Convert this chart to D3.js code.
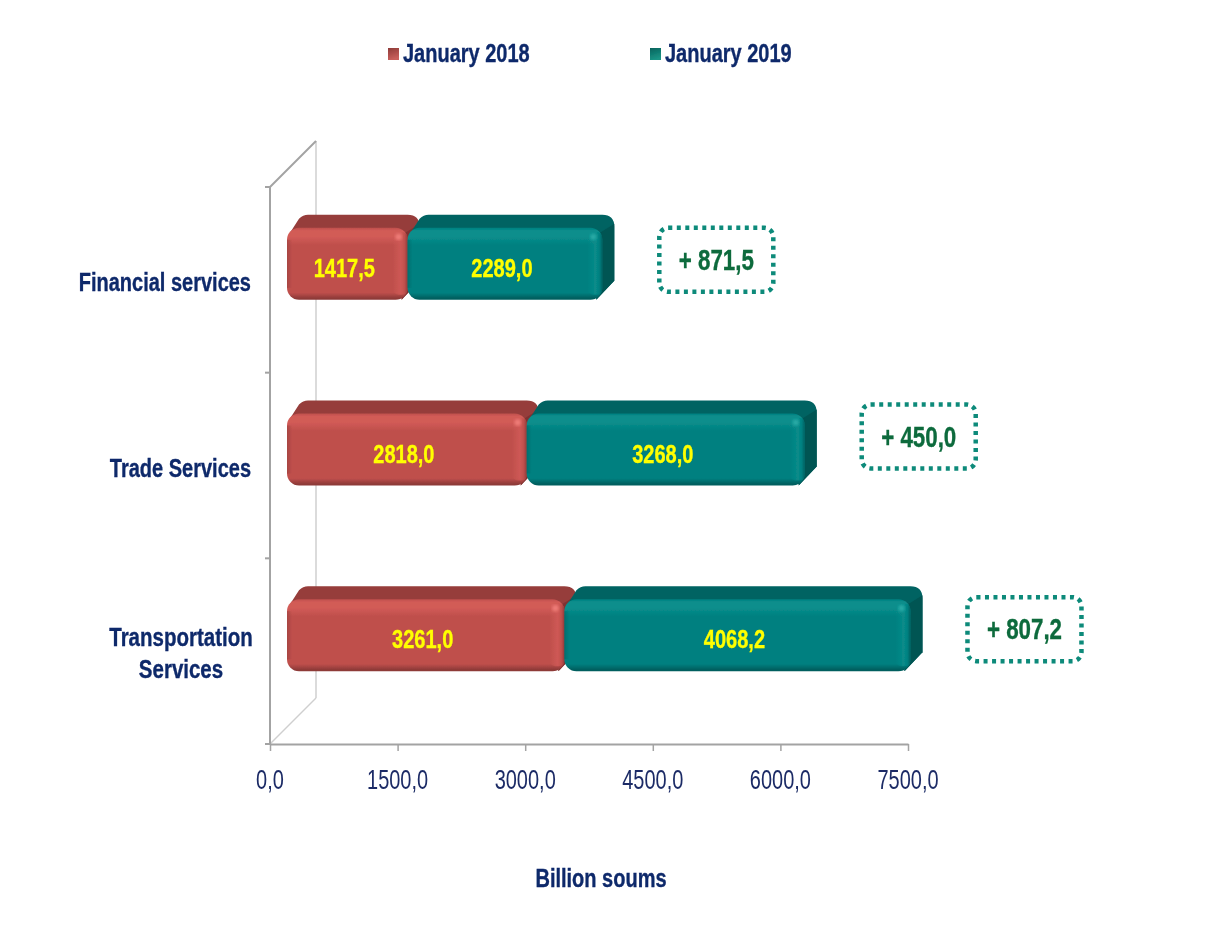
<!DOCTYPE html>
<html><head><meta charset="utf-8">
<script src="https://cdn.jsdelivr.net/npm/d3@7"></script>
<style>html,body{margin:0;padding:0;background:#fff}svg{display:block}text{font-family:"Liberation Sans",Arial,sans-serif}</style>
</head><body><div id="chart"></div>
<script>
const categories = ["Financial services", "Trade Services", "Transportation Services"];
const categoryLines = [["Financial services"], ["Trade Services"], ["Transportation", "Services"]];
const seriesNames = ["January 2018", "January 2019"];
const jan2018 = [1417.5, 2818.0, 3261.0];
const jan2019 = [2289.0, 3268.0, 4068.2];
const deltaLabels = ["+ 871,5", "+ 450,0", "+ 807,2"];
const xTicks = [0, 1500, 3000, 4500, 6000, 7500];
const axisTitle = "Billion soums";

const W = 1214, H = 930;
const plot = {left:270, right:908, top:187, bottom:744, wallDepth:46};
const bar = {shift:17, height:72, up:16, dx:12, dy:13, r:12};
const deltaBox = {gap:45, w:114, h:64, centerUp:[20, 29, 22]};
const xScale = d3.scaleLinear().domain([0, 7500]).range([plot.left, plot.right]);
const yScale = d3.scaleBand().domain(categories).range([plot.top, plot.bottom]);
const fmt = v => d3.format(".1f")(v).replace(".", ",");
const colors = [
 {base:"#bf4f4c", light:"#d25b57", low:"#8e3a38", top:"#963d3b", side:"#7e3331", spot:"#ef7d78", mk1:"#8e3a38", mk2:"#c9605c"},
 {base:"#028080", light:"#098e8c", low:"#015f5f", top:"#056362", side:"#045453", spot:"#27aaa6", mk1:"#05625c", mk2:"#1a9485"}
];
const svg = d3.select("#chart").append("svg").attr("width",W).attr("height",H);
const defs = svg.append("defs");
const soft = defs.append("filter").attr("id","soft").attr("x","-5%").attr("y","-5%").attr("width","110%").attr("height","110%");
soft.append("feGaussianBlur").attr("stdDeviation",0.45);
const blur = defs.append("filter").attr("id","spotblur"); blur.append("feGaussianBlur").attr("stdDeviation",1.6);
colors.forEach((c,i)=>{
  const v = defs.append("linearGradient").attr("id","v"+i).attr("x1",0).attr("x2",0).attr("y1",0).attr("y2",1);
  [[0,c.base],[.04,c.light],[.12,c.light],[.24,c.base],[.9,c.base],[.98,c.low],[1,c.low]].forEach(s=>v.append("stop").attr("offset",s[0]).attr("stop-color",s[1]));
  const e = defs.append("linearGradient").attr("id","e"+i).attr("x1",0).attr("x2",1).attr("y1",0).attr("y2",0);
  [[0,c.light,0],[.55,c.light,.8],[.8,c.base,.9],[1,c.low,.95]].forEach(s=>e.append("stop").attr("offset",s[0]).attr("stop-color",s[1]).attr("stop-opacity",s[2]));
  const l = defs.append("linearGradient").attr("id","l"+i).attr("x1",0).attr("x2",1).attr("y1",0).attr("y2",0);
  [[0,c.low,.5],[1,c.low,0]].forEach(s=>l.append("stop").attr("offset",s[0]).attr("stop-color",s[1]).attr("stop-opacity",s[2]));
  const m = defs.append("linearGradient").attr("id","m"+i).attr("x1",0).attr("x2",.3).attr("y1",0).attr("y2",1);
  [[0,c.mk1],[1,c.mk2]].forEach(s=>m.append("stop").attr("offset",s[0]).attr("stop-color",s[1]));
});
const root = svg.append("g").attr("filter","url(#soft)");

function label(g, x, y, txt, o){
  const sx = o.sx || 0.8;
  const t = g.append("text").attr("transform",`translate(${x},${y}) scale(${sx},1)`)
    .attr("text-anchor",o.anchor||"middle").attr("font-size",o.size||25)
    .attr("font-weight",o.bold?"bold":"normal").attr("fill",o.fill).text(txt);
  if(o.bold) t.attr("stroke",o.fill).attr("stroke-width",0.35);
  return t;
}

// 3D walls
const walls = root.append("g").attr("fill","none");
walls.append("line").attr("x1",plot.left+plot.wallDepth).attr("x2",plot.left+plot.wallDepth).attr("y1",plot.top-plot.wallDepth).attr("y2",plot.bottom-plot.wallDepth).attr("stroke","#cfcfcf").attr("stroke-width",1.5);
walls.append("line").attr("x1",plot.left).attr("x2",plot.left+plot.wallDepth).attr("y1",plot.bottom).attr("y2",plot.bottom-plot.wallDepth).attr("stroke","#cfcfcf").attr("stroke-width",1.5);
walls.append("line").attr("x1",plot.left).attr("x2",plot.left+plot.wallDepth).attr("y1",plot.top).attr("y2",plot.top-plot.wallDepth).attr("stroke","#a3a3a3").attr("stroke-width",2);
walls.append("line").attr("x1",plot.left).attr("x2",plot.left).attr("y1",plot.top).attr("y2",plot.bottom).attr("stroke","#a3a3a3").attr("stroke-width",2);
d3.range(4).forEach(i=>{
  const y = plot.top + i*yScale.step();
  walls.append("line").attr("x1",plot.left-5).attr("x2",plot.left).attr("y1",y).attr("y2",y).attr("stroke","#a3a3a3").attr("stroke-width",2);
});

// x axis
const ax = root.append("g").attr("transform",`translate(0,${plot.bottom})`)
  .call(d3.axisBottom(xScale).tickValues(xTicks).tickFormat(fmt).tickSize(7).tickSizeOuter(0));
ax.select(".domain").attr("stroke","#a3a3a3").attr("stroke-width",2);
ax.selectAll(".tick line").attr("stroke","#a3a3a3").attr("stroke-width",1.5);
ax.selectAll(".tick text").remove();
xTicks.forEach(t=>label(root, xScale(t), 789, fmt(t), {fill:"#1c2c66", size:27, sx:.74}));

// bars
function drawSegment(g, x0, x1, y, c, i){
  const h = bar.height, {dx,dy,r} = bar, w = x1-x0;
  g.append("path").attr("fill",c.top)
    .attr("d",`M${x0+3},${y+5}L${x0+dx},${y-dy+4}Q${x0+dx+4},${y-dy} ${x0+dx+9},${y-dy}L${x1+dx-r},${y-dy}Q${x1+dx},${y-dy} ${x1+dx},${y-dy+r}L${x1+dx},${y+h-dy-6}L${x1-6},${y+h}L${x1-8},${y+10}Z`);
  g.append("path").attr("fill",c.side)
    .attr("d",`M${x1-4},${y+6}L${x1+dx},${y-dy+9}L${x1+dx},${y+h-dy-6}L${x1-6},${y+h}Z`);
  g.append("rect").attr("x",x0).attr("y",y).attr("width",w).attr("height",h).attr("rx",r).attr("fill",`url(#v${i})`);
  g.append("rect").attr("x",x0).attr("y",y+r).attr("width",5).attr("height",h-2*r).attr("fill",`url(#l${i})`);
  g.append("rect").attr("x",x1-15).attr("y",y+4).attr("width",15).attr("height",h-9).attr("rx",6).attr("fill",`url(#e${i})`);
  g.append("circle").attr("cx",x1-9).attr("cy",y+9).attr("r",3.2).attr("fill",c.spot).attr("filter","url(#spotblur)");
}
const barsG = root.append("g");
categories.forEach((cat,k)=>{
  const yc = yScale(cat)+yScale.bandwidth()/2 - bar.up;
  const y = yc - bar.height/2;
  const a0 = xScale(0)+bar.shift, a1 = xScale(jan2018[k])+bar.shift, a2 = xScale(jan2018[k]+jan2019[k])+bar.shift;
  drawSegment(barsG, a0, a1, y, colors[0], 0);
  drawSegment(barsG, a1, a2, y, colors[1], 1);
  label(root, (a0+a1)/2-3, yc+13, fmt(jan2018[k]), {bold:true, fill:"#ffff00", size:26, sx:.77});
  label(root, (a1+a2)/2-3, yc+13, fmt(jan2019[k]), {bold:true, fill:"#ffff00", size:26, sx:.77});

  // delta box
  const bx = a2+bar.dx+deltaBox.gap, cy = yScale(cat)+yScale.bandwidth()/2-deltaBox.centerUp[k];
  root.append("rect").attr("x",bx).attr("y",cy-deltaBox.h/2).attr("width",deltaBox.w).attr("height",deltaBox.h).attr("rx",9)
    .attr("fill","#fff").attr("stroke","#0d8a7a").attr("stroke-width",4.5).attr("stroke-dasharray","4 4.5");
  label(root, bx+deltaBox.w/2, cy+10, deltaLabels[k], {bold:true, fill:"#0c6b3c", size:29, sx:.77});

  // category label
  const ls = categoryLines[k], cyc = yScale(cat)+yScale.bandwidth()/2;
  ls.forEach((t,j)=>label(root, k===2?181:251, cyc+11+(j-(ls.length-1)/2)*32, t, {bold:true, fill:"#10296b", anchor:k===2?"middle":"end", sx:k===2?.82:.8}));
});

// legend
const legendX = [388, 650];
seriesNames.forEach((s,i)=>{
  root.append("rect").attr("x",legendX[i]).attr("y",48).attr("width",11).attr("height",12).attr("fill",`url(#m${i})`);
  label(root, legendX[i]+15, 62, s, {bold:true, fill:"#10296b", anchor:"start", sx:.8});
});
label(root, 601, 887, axisTitle, {bold:true, fill:"#10296b", sx:.8});
</script></body></html>
